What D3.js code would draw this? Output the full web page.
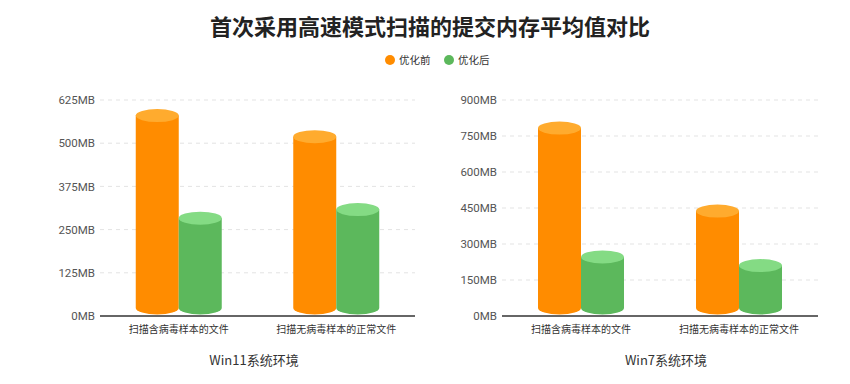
<!DOCTYPE html>
<html>
<head>
<meta charset="utf-8">
<script src="https://cdn.jsdelivr.net/npm/d3@7"></script>
<style>
  body { margin: 0; background: #fff; }
  svg { font-family: "Noto Sans CJK SC", "Noto Sans", sans-serif; }
</style>
</head>
<body>
<svg id="canvas"></svg>
<script>
// Chart data.
var categories = ['扫描含病毒样本的文件', '扫描无病毒样本的正常文件'];
var seriesNames = ['优化前', '优化后'];
var win11Before = [580, 519];
var win11After = [283, 308];
var win7Before = [783, 437];
var win7After = [246, 210];
var win11Ticks = [0, 125, 250, 375, 500, 625];
var win7Ticks = [0, 150, 300, 450, 600, 750, 900];

// Canvas settings.
var canvas = {
  dim: { w: 850, h: 384 },
  colours: {
    body: ['#ff8c00', '#5cb85c'],
    top: ['#ffab2e', '#84db84'],
    legend: ['#ff8c00', '#5cb85c']
  }
};

var svg = d3.select('#canvas')
            .attr('width', canvas.dim.w)
            .attr('height', canvas.dim.h);

// Title.
svg.append('text')
    .attr('x', 430)
    .attr('y', 35)
    .attr('text-anchor', 'middle')
    .attr('font-size', 22)
    .attr('font-weight', 'bold')
    .attr('fill', '#222')
    .text('首次采用高速模式扫描的提交内存平均值对比');

// Legend.
var legend = svg.append('g');
var legendX = [390, 449];
seriesNames.forEach(function(name, i) {
  legend.append('circle')
        .attr('cx', legendX[i])
        .attr('cy', 60)
        .attr('r', 5)
        .attr('fill', canvas.colours.legend[i]);
  legend.append('text')
        .attr('x', legendX[i] + 9)
        .attr('y', 64)
        .attr('font-size', 10.5)
        .attr('fill', '#333')
        .text(name);
});

// Draw one panel with cylinder bars.
var drawPanel = function(opt) {

  var x = d3.scaleBand()
            .domain(categories)
            .range([opt.x0, opt.x1]);

  var y = d3.scaleLinear()
            .domain([0, opt.ticks[opt.ticks.length - 1]])
            .range([316, 100]);

  var sub = d3.scaleBand()
              .domain([0, 1])
              .range([0, 86]);

  var g = svg.append('g');

  // Grid lines.
  g.selectAll('.grid')
    .data(opt.ticks.slice(1))
    .enter()
    .append('line')
    .attr('x1', opt.x0)
    .attr('x2', opt.x1)
    .attr('y1', function(d) { return y(d); })
    .attr('y2', function(d) { return y(d); })
    .attr('stroke', '#e3e3e3')
    .attr('stroke-dasharray', '4,4');

  // Y axis.
  var yAxis = g.append('g')
                .attr('transform', 'translate(' + (opt.x0 - 3) + ',0)')
                .call(d3.axisLeft(y)
                        .tickValues(opt.ticks)
                        .tickSize(0)
                        .tickPadding(2)
                        .tickFormat(function(d) { return d + 'MB'; }));
  yAxis.select('.domain').remove();
  yAxis.selectAll('text')
        .attr('font-size', 11.5)
        .attr('fill', '#555')
        .attr('font-family', 'Roboto, "Noto Sans CJK SC", sans-serif');

  // Bars.
  var series = [opt.before, opt.after];
  var rx = sub.bandwidth() / 2;
  var ry = 6.5;
  var base = y(0) - 8;

  series.forEach(function(values, s) {
    var bars = g.append('g');
    var cx = function(d, i) { return x(categories[i]) + x.bandwidth() / 2 - 43 + sub(s) + rx; };

    // Body with rounded bottom.
    bars.selectAll('path')
        .data(values)
        .enter()
        .append('path')
        .attr('fill', canvas.colours.body[s])
        .attr('d', function(d, i) {
          var c = cx(d, i);
          var top = y(d);
          return 'M' + (c - rx) + ',' + top +
                 'L' + (c - rx) + ',' + base +
                 'A' + rx + ',' + ry + ' 0 0 0 ' + (c + rx) + ',' + base +
                 'L' + (c + rx) + ',' + top + 'Z';
        });

    // Top ellipse.
    bars.selectAll('ellipse')
        .data(values)
        .enter()
        .append('ellipse')
        .attr('cx', cx)
        .attr('cy', function(d) { return y(d); })
        .attr('rx', rx)
        .attr('ry', ry)
        .attr('fill', canvas.colours.top[s]);
  });

  // X axis line.
  g.append('line')
    .attr('x1', opt.x0)
    .attr('x2', opt.x1)
    .attr('y1', y(0))
    .attr('y2', y(0))
    .attr('stroke', '#333')
    .attr('stroke-width', 1.5);

  // Category labels.
  g.selectAll('.cat')
    .data(categories)
    .enter()
    .append('text')
    .attr('x', function(d) { return x(d) + x.bandwidth() / 2; })
    .attr('y', 333)
    .attr('text-anchor', 'middle')
    .attr('font-size', 10)
    .attr('fill', '#333')
    .text(function(d) { return d; });

  // Panel title.
  g.append('text')
    .attr('x', opt.titleX)
    .attr('y', 365)
    .attr('text-anchor', 'middle')
    .attr('font-size', 13)
    .attr('fill', '#333')
    .text(opt.title);
};

drawPanel({
  x0: 100, x1: 415,
  ticks: win11Ticks,
  before: win11Before,
  after: win11After,
  title: 'Win11系统环境',
  titleX: 254
});

drawPanel({
  x0: 502, x1: 818,
  ticks: win7Ticks,
  before: win7Before,
  after: win7After,
  title: 'Win7系统环境',
  titleX: 666
});
</script>
</body>
</html>
